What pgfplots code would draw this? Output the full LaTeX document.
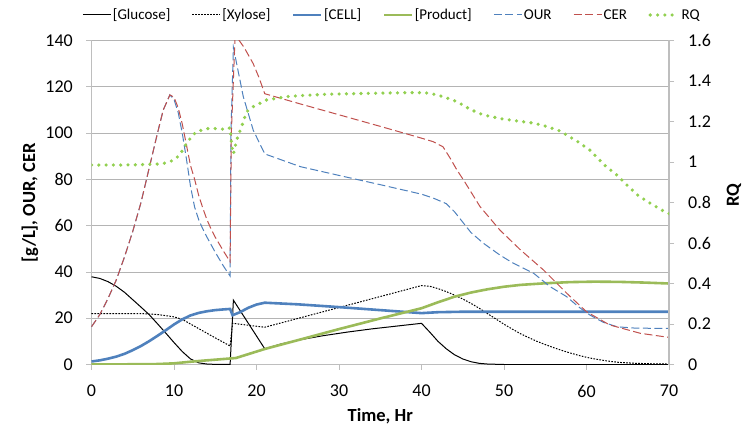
\documentclass[border=0pt]{standalone}
\usepackage{fontspec}
\setmainfont{Carlito}
\usepackage{pgfplots}
\pgfplotsset{compat=1.18}

\definecolor{cellblue}{HTML}{4F81BD}
\definecolor{prodgreen}{HTML}{9BBB59}
\definecolor{cerred}{HTML}{C0504D}
\definecolor{rqgreen}{HTML}{92D050}
\definecolor{gridgray}{HTML}{B4B4B4}
\definecolor{axisgray}{HTML}{BEBEBE}

\pgfplotsset{
  base/.style={
    scale only axis, width=577.5pt, height=324pt,
    xmin=0, xmax=70,
    tick align=outside, major tick length=5pt,
    tick style={draw=axisgray, line width=0.8pt},
    axis line style={draw=axisgray, line width=1.2pt, -},
    /pgf/number format/assume math mode=true,
    ticklabel style={font=\fontsize{18}{18}\selectfont},
    label style={font=\fontsize{18.5}{20}\selectfont\bfseries},
  },
  glu/.style={black, line width=1pt},
  xyl/.style={black, line width=1pt, dash pattern=on 1.6pt off 1.4pt},
  cell/.style={cellblue, line width=2.6pt},
  prod/.style={prodgreen, line width=2.6pt},
  our/.style={cellblue, line width=1pt, dash pattern=on 8pt off 3.5pt},
  cer/.style={cerred, line width=1pt, dash pattern=on 8pt off 3.5pt},
  rq/.style={rqgreen, line width=3.6pt, line cap=round, dash pattern=on 0pt off 7.3pt},
}

\begin{document}
\begin{tikzpicture}
\useasboundingbox (-91.5pt,-63.5pt) rectangle (651.5pt,364.5pt);
\begin{axis}[
  base,
  ymin=0, ymax=140,
  xtick={0,10,...,70}, ytick={0,20,...,140},
  axis x line*=bottom, axis y line*=left,
  ymajorgrids, grid style={draw=gridgray, line width=0.8pt},
  yticklabel style={anchor=east, inner sep=0pt, xshift=-13.5pt},
  xticklabel style={anchor=north, inner sep=0pt, yshift=-15.5pt},
  xlabel={Time, Hr},
  xlabel style={at={(axis description cs:0.5,0)}, anchor=base, yshift=-57pt},
  ylabel={[g/L], OUR, CER},
  ylabel style={at={(axis description cs:0,0.5)}, anchor=center, yshift=61.5pt},
  legend image code/.code={\draw[#1] (0pt,0pt) -- (28pt,0pt);},
  legend style={draw=none, fill=none, at={(0.52,1.0787)}, anchor=center,
    legend columns=7, font=\fontsize{15}{15}\selectfont,
    nodes={inner sep=1.5pt},
    /tikz/every even column/.append style={column sep=20pt}},
  legend cell align=left,
]
% Glucose
\addplot[glu] coordinates {
(0,37.9) (1,37.2) (2,35.8) (3,33.8) (4,31.2) (5,28.0) (6,24.8) (7,21.5)
(8,17.6) (9,13.6) (10,9.5) (11,5.6) (12,2.4) (13,0.7) (14,0.2) (15,0.05)
(16.8,0) (17.2,27.8) (21,6.8) (23,8.9) (25,10.5) (28,12.4) (31,14.0)
(34,15.4) (37,16.6) (40,17.8) (41,14.0) (42,10.0) (43,6.8) (44,4.2)
(45,2.4) (46,1.2) (47,0.5) (48,0.2) (50,0) (70,0)};
\addlegendentry{\relax[Glucose]}
% Xylose
\addplot[xyl] coordinates {
(0,22.0) (3,22.0) (6,22.0) (8,21.6) (10,20.6) (11,19.5) (12,17.5) (13,15.5)
(14,13.5) (15,11.5) (16.8,8.0) (17.1,17.8) (21,16.1) (40,34.1) (41,33.8)
(42,32.8) (43,31.5) (44,30.0) (45,28.3) (46,26.4) (47,24.3) (48,22.0)
(49,19.7) (50,17.4) (51,15.3) (52,13.3) (53,11.6) (54,10.0) (55,8.6)
(56,7.3) (57,6.1) (58,5.0) (59,4.0) (60,3.1) (61,2.4) (62,1.8) (63,1.3)
(64,0.9) (66,0.5) (68,0.3) (70,0.2)};
\addlegendentry{\relax[Xylose]}
% CELL
\addplot[cell] coordinates {
(0,1.3) (1,1.8) (2,2.5) (3,3.4) (4,4.6) (5,6.2) (6,8.0) (7,10.1) (8,12.4)
(9,14.8) (10,17.3) (11,19.5) (12,21.2) (13,22.3) (14,23.0) (15,23.5)
(16,23.8) (16.8,24.0) (17.1,21.3) (18,22.6) (19,24.5) (20,25.9) (21,26.7)
(25,26.0) (30,24.8) (35,23.5) (40,22.2) (42,22.6) (45,22.8) (70,22.8)};
\addlegendentry{\relax[CELL]}
% Product
\addplot[prod] coordinates {
(0,0) (5,0.1) (8,0.2) (10,0.5) (12,1.2) (14,1.8) (16.8,2.6) (17.5,2.8)
(21,6.7) (25,10.5) (30,15.3) (35,19.9) (40,24.3) (42,26.9) (44,29.3)
(46,31.1) (48,32.5) (50,33.6) (52,34.4) (55,35.1) (58,35.6) (61,35.8)
(64,35.7) (67,35.4) (70,35.0)};
\addlegendentry{\relax[Product]}
% OUR
\addplot[our] coordinates {
(0,16.3) (1,21.5) (2,28.5) (3,36.5) (4,46.5) (5,57.5) (6,70) (7,85)
(8,100) (8.7,110) (9.5,116.5) (10,114.5) (10.5,109) (11,100) (11.5,89)
(12,77) (12.5,68) (13,62.5) (13.5,58.5) (14,55) (15,48.5) (16,42.5)
(16.8,38.2) (16.9,100) (17.2,137) (18.4,115.7) (19.6,101.3) (21,91)
(25.3,85.5) (30,81.7) (35,77.7) (40,73.6) (41.5,71.8) (43,69.5) (44,66)
(45,61.5) (46,57) (47.5,52.4) (49.5,47.3) (51,44) (53.6,39.4) (55.6,33.6)
(57.6,29.3) (59,25) (60.4,21.4) (62,18.3) (63.7,16.3) (66,15.7) (70,15.6)};
\addlegendentry{OUR}
% CER
\addplot[cer] coordinates {
(0,16.3) (1,21.5) (2,28.5) (3,36.5) (4,46.5) (5,57.5) (6,70) (7,85)
(8,100) (8.7,110) (9.5,116.5) (10,115.5) (10.5,111) (11,104) (11.5,95)
(12,86) (12.5,80) (13,73) (13.5,67.5) (14,62.5) (14.5,58.5) (15,55)
(16,49) (16.8,44.4) (16.95,100) (17.4,141.5) (17.8,140.5) (18.5,137)
(19.6,130) (20.3,124) (21,117) (25.3,112.6) (30,107.9) (35,102.9)
(40,97.8) (41.4,96.3) (42.6,94.1) (43.5,89) (44.3,84) (45.1,79.7)
(47.1,68.2) (49.5,58.1) (52,49.5) (54.8,40.8) (57.6,30.8) (60,22.8)
(62.8,17.1) (66.5,13.5) (70,11.7)};
\addlegendentry{CER}
\addlegendimage{rq}
\addlegendentry{RQ}
\end{axis}
\begin{axis}[
  base,
  ymin=0, ymax=1.6,
  axis x line=none, axis y line*=right,
  ytick={0,0.2,0.4,0.6,0.8,1,1.2,1.4,1.6},
  yticklabel style={anchor=west, inner sep=0pt, xshift=14pt},
  ylabel={RQ},
  ylabel style={at={(axis description cs:1,0.523)}, anchor=center, yshift=-65pt},
]
\addplot[rq] coordinates {
(0,0.985) (2,0.985) (4,0.985) (6,0.987) (8,0.99) (9,0.995) (10,1.01)
(10.7,1.035) (11.5,1.09) (12.2,1.13) (12.75,1.15) (14,1.165) (15.3,1.165)
(16.4,1.16) (16.8,1.17) (17.0,1.08) (17.2,1.04) (17.6,1.109) (18.2,1.175)
(18.8,1.248) (19.6,1.273) (21.2,1.306) (23.7,1.323) (25.3,1.328)
(28.9,1.335) (35,1.34) (39.4,1.343) (41,1.34) (42.6,1.323) (44.3,1.298)
(45.9,1.26) (47.5,1.232) (49.9,1.212) (53.6,1.192) (55.2,1.175)
(56.8,1.153) (58.8,1.104) (60.4,1.059) (62.2,0.984) (63.7,0.935)
(65,0.882) (66.3,0.833) (67.9,0.792) (69.4,0.756) (70,0.745)};
\end{axis}
\end{tikzpicture}
\end{document}
